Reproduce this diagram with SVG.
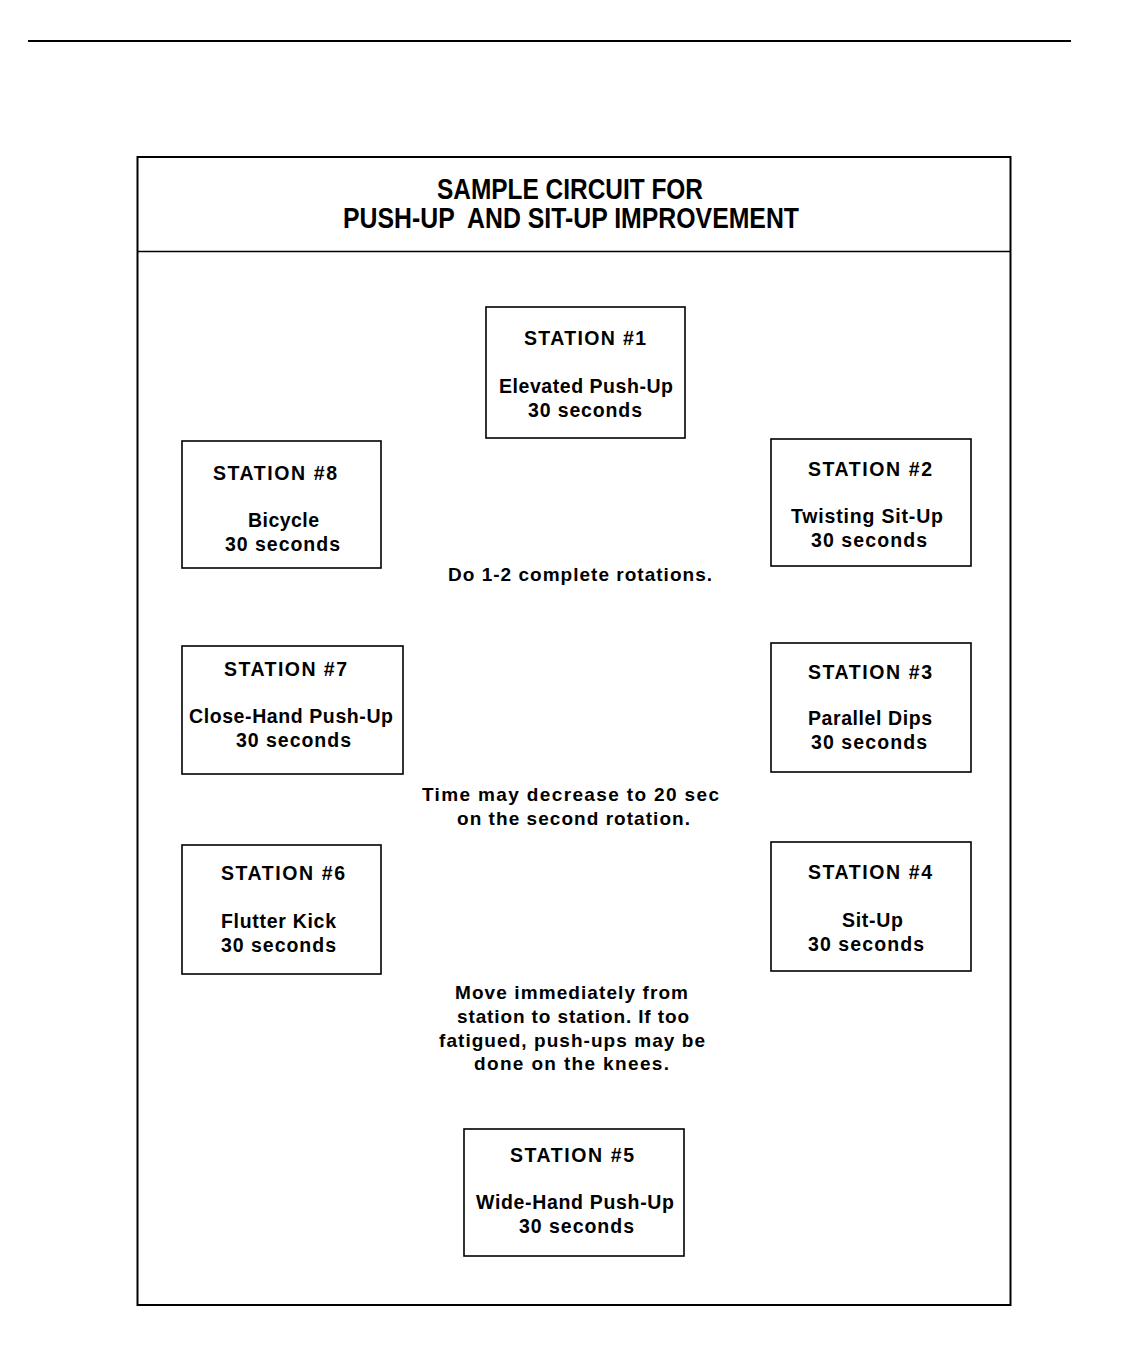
<svg xmlns="http://www.w3.org/2000/svg" width="1138" height="1345" viewBox="0 0 1138 1345">
<style>
.frame{fill:none;stroke:#000;stroke-width:2}
.box{fill:#fff;stroke:#000;stroke-width:1.6}
text{font-family:"Liberation Sans",Arial,sans-serif;font-weight:bold;fill:#000}
.t{font-size:19.5px}
.n{font-size:19px}
.h{font-size:29px;white-space:pre}
</style>
<rect width="1138" height="1345" fill="#fff"/>
<line x1="28" y1="41" x2="1071" y2="41" stroke="#000" stroke-width="2"/>
<g id="frame">
<rect class="frame" x="137.5" y="157" width="873" height="1148"/>
<line x1="137.5" y1="251.5" x2="1010.5" y2="251.5" stroke="#000" stroke-width="1.6"/>
<text class="h" x="437" y="199" textLength="266" lengthAdjust="spacingAndGlyphs">SAMPLE CIRCUIT FOR</text>
<text class="h" x="343" y="228" textLength="456" lengthAdjust="spacingAndGlyphs">PUSH-UP  AND SIT-UP IMPROVEMENT</text>
</g>
<g id="connectors"></g>
<g id="station1">
<rect class="box" x="486" y="307" width="199" height="131"/>
<text class="t" x="524" y="345" textLength="122">STATION #1</text>
<text class="t" x="499" y="393" textLength="174">Elevated Push-Up</text>
<text class="t" x="528" y="417" textLength="114">30 seconds</text>
</g>
<g id="station2">
<rect class="box" x="771" y="439" width="200" height="127"/>
<text class="t" x="808" y="476" textLength="124">STATION #2</text>
<text class="t" x="791" y="523" textLength="152">Twisting Sit-Up</text>
<text class="t" x="811" y="547" textLength="116">30 seconds</text>
</g>
<g id="station3">
<rect class="box" x="771" y="643" width="200" height="129"/>
<text class="t" x="808" y="679" textLength="124">STATION #3</text>
<text class="t" x="808" y="725" textLength="124">Parallel Dips</text>
<text class="t" x="811" y="749" textLength="116">30 seconds</text>
</g>
<g id="station4">
<rect class="box" x="771" y="842" width="200" height="129"/>
<text class="t" x="808" y="879" textLength="124">STATION #4</text>
<text class="t" x="842" y="927" textLength="61">Sit-Up</text>
<text class="t" x="808" y="951" textLength="116">30 seconds</text>
</g>
<g id="station5">
<rect class="box" x="464" y="1129" width="220" height="127"/>
<text class="t" x="510" y="1162" textLength="124">STATION #5</text>
<text class="t" x="476" y="1209" textLength="198">Wide-Hand Push-Up</text>
<text class="t" x="519" y="1233" textLength="115">30 seconds</text>
</g>
<g id="station6">
<rect class="box" x="182" y="845" width="199" height="129"/>
<text class="t" x="221" y="880" textLength="124">STATION #6</text>
<text class="t" x="221" y="928" textLength="115">Flutter Kick</text>
<text class="t" x="221" y="952" textLength="115">30 seconds</text>
</g>
<g id="station7">
<rect class="box" x="182" y="646" width="221" height="128"/>
<text class="t" x="224" y="676" textLength="123">STATION #7</text>
<text class="t" x="189" y="723" textLength="204">Close-Hand Push-Up</text>
<text class="t" x="236" y="747" textLength="115">30 seconds</text>
</g>
<g id="station8">
<rect class="box" x="182" y="441" width="199" height="127"/>
<text class="t" x="213" y="480" textLength="124">STATION #8</text>
<text class="t" x="248" y="527" textLength="71">Bicycle</text>
<text class="t" x="225" y="551" textLength="115">30 seconds</text>
</g>
<g id="notes">
<text class="n" x="448" y="581" textLength="264">Do 1-2 complete rotations.</text>
<text class="n" x="422" y="801" textLength="297">Time may decrease to 20 sec</text>
<text class="n" x="457" y="825" textLength="233">on the second rotation.</text>
<text class="n" x="455" y="999" textLength="233">Move immediately from</text>
<text class="n" x="457" y="1023" textLength="232">station to station. If too</text>
<text class="n" x="439" y="1047" textLength="266">fatigued, push-ups may be</text>
<text class="n" x="474" y="1070" textLength="195">done on the knees.</text>
</g>
</svg>
